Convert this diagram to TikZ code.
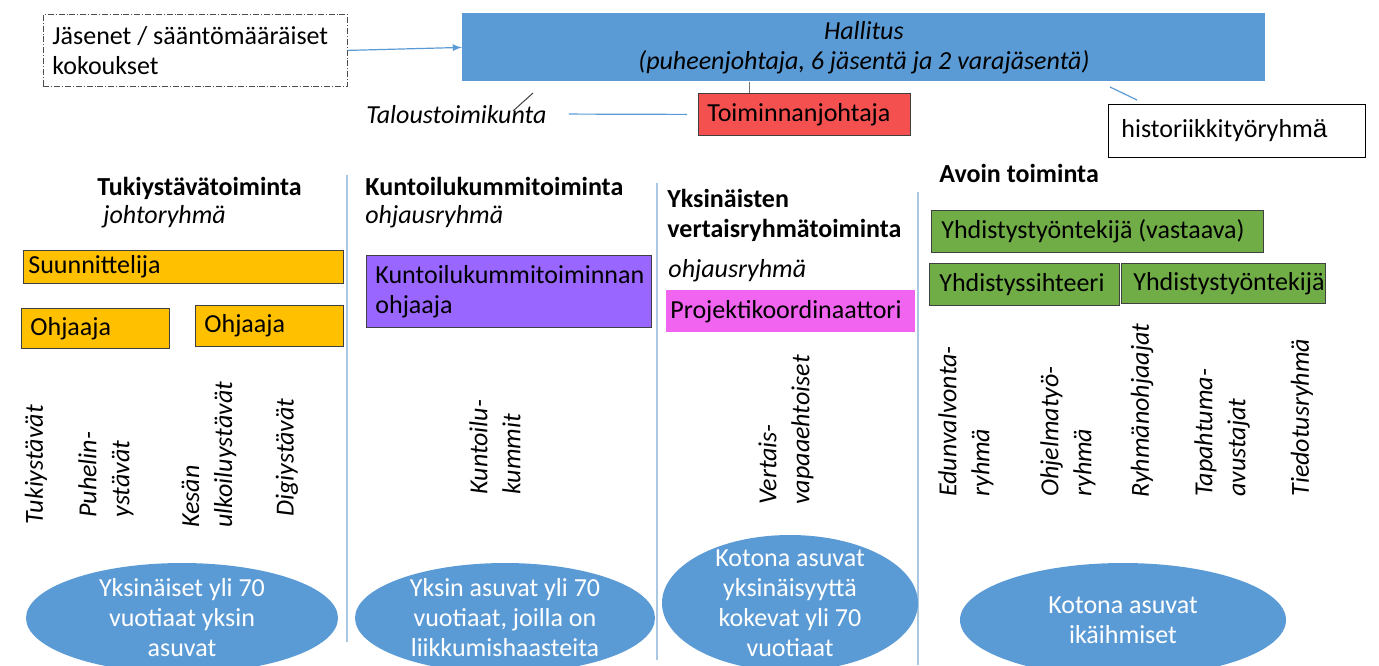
\documentclass[tikz,border=0pt]{standalone}
\usepackage{fontspec}
\setmainfont{Carlito}
\newfontfamily\arialfont{Liberation Sans}
\usepackage{tikz}
\usetikzlibrary{shapes,arrows,positioning}
\definecolor{hallitusblue}{RGB}{91,155,213}
\definecolor{jrred}{RGB}{245,80,80}
\definecolor{tukiorange}{RGB}{255,192,0}
\definecolor{kuntopurple}{RGB}{153,102,255}
\definecolor{vertaispink}{RGB}{240,100,240}
\definecolor{avoingreen}{RGB}{112,173,71}
\definecolor{sepline}{RGB}{170,200,225}
\tikzstyle{Box} = [rectangle, draw=black!75, anchor=north west, align=flush left, inner xsep=4.5pt, inner ysep=0pt]
\tikzstyle{Label} = [anchor=base west, inner sep=0pt]
\tikzstyle{Rotated} = [rotate=90, anchor=west, align=left, inner sep=0pt, font=\itshape\fontsize{13}{16.5}\selectfont]
\tikzstyle{Target} = [ellipse, fill=hallitusblue, inner sep=0pt]
\tikzstyle{TargetText} = [text=white, align=center, inner sep=0pt]
\tikzstyle{arrow} = [->, >=latex, draw=hallitusblue, line width=0.6pt]
\tikzstyle{Link} = [draw=hallitusblue, line width=0.6pt]
\tikzstyle{Separator} = [draw=sepline, line width=0.7pt]
\AtBeginDocument{\fontsize{13}{15}\selectfont}

\begin{document}
\begin{tikzpicture}[x=0.5pt,y=-0.5pt]
\useasboundingbox (0,0) rectangle (1379,665);

% top row
\node (Jasenet)[Box, draw=black!70, densely dashdotted, minimum width=152pt, minimum height=36pt, text width=143pt] at (43,14) {Jäsenet / sääntömääräiset\\
kokoukset};
\node (Hallitus)[Box, draw=none, fill=hallitusblue, align=flush center, font=\itshape, minimum width=401.5pt, minimum height=34pt, text width=392.5pt] at (462,13) {Hallitus\\
(puheenjohtaja, 6 jäsentä ja 2 varajäsentä)};
\node (Toiminnanjohtaja)[Box, fill=jrred, minimum width=106pt, minimum height=21pt, text width=97pt] at (698,93) {Toiminnanjohtaja};
\node (Taloustoimikunta)[Label, font=\itshape] at (366,123) {Taloustoimikunta};
\node (Historiikki)[Box, draw=black, inner xsep=6.5pt, minimum width=128.5pt, minimum height=26.5pt, text width=115.5pt] at (1108,104) {historiikkityöryhm{\arialfont ä}};
\coordinate (Slash a) at (513,111);
\coordinate (Slash b) at (533,93);
\coordinate (Historiikki a) at (1110,87);
\coordinate (Historiikki b) at (1137,100);

\draw[arrow](Jasenet.east)--(Hallitus.west);
\draw[Link]([xshift=11pt]Taloustoimikunta.east)--([xshift=-5.5pt]Toiminnanjohtaja.west);
\draw[black!55, line width=0.5pt]([xshift=-27.5pt]Toiminnanjohtaja.north) coordinate (Jtop)--(Jtop |- Hallitus.south);
\draw[black!75, line width=0.5pt](Slash a)--(Slash b);
\draw[Link](Historiikki a)--(Historiikki b);

% separators
\draw[Separator] (347,175)--(347,642);
\draw[Separator] (657,183)--(657,660);
\draw[Separator] (918,192)--(918,665);

% Tukiystävätoiminta
\node (Tuki)[Label, font=\bfseries] at (97,195) {Tukiystävätoiminta};
\node (Tuki Johto)[Label, font=\itshape] at (103,223) {johtoryhmä};
\node (Suunnittelija)[Box, fill=tukiorange, inner xsep=2.5pt, minimum width=160pt, minimum height=16.5pt, text width=155pt] at (23,250) {Suunnittelija};
\node (Ohjaaja A)[Box, fill=tukiorange, minimum width=74pt, minimum height=20pt, text width=65pt] at (21,308) {Ohjaaja};
\node (Ohjaaja B)[Box, fill=tukiorange, minimum width=74pt, minimum height=20.5pt, text width=65pt] at (195,305) {Ohjaaja};
\node (Tukiystavat)[Rotated] at (36,525) {Tukiystävät};
\node (Puhelin)[Rotated] at (106,518) {Puhelin-\\ystävät};
\node (Kesan)[Rotated] at (209,528) {Kesän\\ulkoiluystävät};
\node (Digi)[Rotated] at (287,517) {Digiystävät};
\node (Kohde1)[Target, minimum width=156pt, minimum height=55pt] at (182,618) {};
\node (Kohde1 Text)[TargetText] at (Kohde1.center) {Yksinäiset yli 70\\
vuotiaat yksin\\
asuvat};

% Kuntoilukummitoiminta
\node (Kunto)[Label, font=\bfseries] at (365,195) {Kuntoilukummitoiminta};
\node (Kunto Ohjaus)[Label, font=\itshape] at (365,223) {ohjausryhmä};
\node (Kunto Ohjaaja)[Box, fill=kuntopurple, minimum width=142.5pt, minimum height=36pt, text width=133.5pt] at (366,255) {Kuntoilukummitoiminnan\\
ohjaaja};
\node (Kummit)[Rotated] at (495,495) {Kuntoilu-\\kummit};
\node (Kohde2)[Target, minimum width=150pt, minimum height=55pt] at (505,618) {};
\node (Kohde2 Text)[TargetText] at (Kohde2.center) {Yksin asuvat yli 70\\
vuotiaat, joilla on\\
liikkumishaasteita};

% Yksinäisten vertaisryhmätoiminta
\node (Vertais)[Label, anchor=north west, align=left, font=\bfseries] at (667,189) {Yksinäisten\\
vertaisryhmätoiminta};
\node (Vertais Ohjaus)[Label, font=\itshape] at (668,277) {ohjausryhmä};
\node (Projekti)[Box, draw=none, fill=vertaispink, inner xsep=2pt, minimum width=124.5pt, minimum height=21pt, text width=120.5pt] at (666,290) {Projektikoordinaattori};
\node (Vapaaehtoiset)[Rotated] at (786,505) {Vertais-\\vapaaehtoiset};
\node (Kohde3)[Target, minimum width=128pt, minimum height=68pt] at (790,603) {};
\node (Kohde3 Text)[TargetText] at (Kohde3.center) {Kotona asuvat\\
yksinäisyyttä\\
kokevat yli 70\\
vuotiaat};

% Avoin toiminta
\node (Avoin)[Label, font=\bfseries] at (939,182) {Avoin toiminta};
\node (Vastaava)[Box, fill=avoingreen, inner xsep=5pt, minimum width=166pt, minimum height=21pt, text width=156pt] at (931,210) {Yhdistystyöntekijä (vastaava)};
\node (Sihteeri)[Box, fill=avoingreen, inner xsep=5pt, minimum width=95pt, minimum height=21pt, text width=85pt] at (929,263) {Yhdistyssihteeri};
\node (Tyontekija)[Box, fill=avoingreen, inner xsep=6pt, minimum width=102pt, minimum height=20pt, text width=90pt] at (1121,263) {Yhdistystyöntekijä};
\node (Edunvalvonta)[Rotated] at (966,497) {Edunvalvonta-\\ryhmä};
\node (Ohjelma)[Rotated] at (1068,497) {Ohjelmatyö-\\ryhmä};
\node (Ryhmanohjaajat)[Rotated] at (1142,498) {Ryhmänohjaajat};
\node (Tapahtuma)[Rotated] at (1222,497) {Tapahtuma-\\avustajat};
\node (Tiedotus)[Rotated] at (1302,497) {Tiedotusryhmä};
\node (Kohde4)[Target, minimum width=163pt, minimum height=57pt] at (1123,620) {};
\node (Kohde4 Text)[TargetText] at (Kohde4.center) {Kotona asuvat\\
ikäihmiset};

\end{tikzpicture}
\end{document}
